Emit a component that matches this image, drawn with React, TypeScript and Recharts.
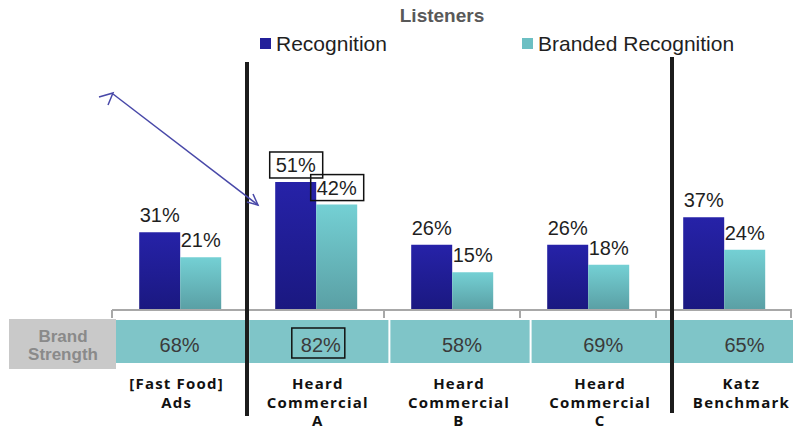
import React from "react";
import { BarChart, Bar, XAxis, YAxis, LabelList } from "recharts";

// categories along the x axis, one entry per line of the label
const categories = ["Fast Food Ads", "Heard Commercial A", "Heard Commercial B", "Heard Commercial C", "Katz Benchmark"];
const categoryLines = [
  ["[Fast Food]", "Ads"],
  ["Heard", "Commercial", "A"],
  ["Heard", "Commercial", "B"],
  ["Heard", "Commercial", "C"],
  ["Katz", "Benchmark"],
];
const seriesNames = ["Recognition", "Branded Recognition"];
const recognition = [31, 51, 26, 26, 37];
const brandedRecognition = [21, 42, 15, 18, 24];
const brandStrength = [68, 82, 58, 69, 65];
// which values get a box drawn round them
const boxedRecognition = [false, true, false, false, false];
const boxedBranded = [false, true, false, false, false];
const boxedStrength = [false, true, false, false, false];

const data = categories.map((name, i) => ({
  name,
  rec: recognition[i],
  branded: brandedRecognition[i],
}));

const FONT = "'Liberation Sans', Arial, sans-serif";

const makeValueLabel = (boxed: boolean[]) => (props: any) => {
  const { x, y, width, value, index } = props;
  const cx = Number(x) + Number(width) / 2;
  const ty = Number(y) - 10;
  return (
    <g>
      {boxed[index] && (
        <rect x={cx - 26} y={ty - 20} width={53} height={26} fill="none" stroke="#111" strokeWidth={1.5} />
      )}
      <text x={cx} y={ty} textAnchor="middle" fontSize={20} fill="#1f1f1f" fontFamily={FONT}>
        {value}%
      </text>
    </g>
  );
};

// tick marks at the category boundaries of the bar axis
const BoundaryTick = (props: any) => {
  const { x, y, payload, index } = props;
  const half = payload && payload.offset ? payload.offset : 68;
  const last = index === categories.length - 1;
  return (
    <g>
      <line x1={x - half} x2={x - half} y1={y} y2={y + 8} stroke="#a8a8a8" strokeWidth={2} />
      {last && <line x1={x + half - 1} x2={x + half - 1} y1={y} y2={y + 8} stroke="#a8a8a8" strokeWidth={2} />}
    </g>
  );
};

// brand strength cell plus the category name under it
const TableTick = (props: any) => {
  const { x, y, payload, index } = props;
  const half = payload && payload.offset ? payload.offset : 70;
  const lines = categoryLines[index] || [];
  const cellTop = y + 9;
  const left = Math.max(x - half + 2, 116);
  return (
    <g>
      <rect x={left} y={cellTop} width={x + half - left} height={43} fill="#7fc5c8" />
      <text x={x + 3} y={cellTop + 32} textAnchor="middle" fontSize={20} fill="#3a3a3a" fontFamily={FONT}>
        {brandStrength[index]}%
      </text>
      {boxedStrength[index] && (
        <rect x={x - 26} y={cellTop + 8} width={53} height={30} fill="none" stroke="#111" strokeWidth={1.5} />
      )}
      <text
        textAnchor="middle"
        fontSize={15}
        fontWeight="bold"
        fill="#111"
        fontFamily="'Open Sans', sans-serif"
        letterSpacing={1.2}
      >
        {lines.map((l, i) => (
          <tspan key={i} x={x} y={y + 78 + i * 18.5}>
            {l}
          </tspan>
        ))}
      </text>
    </g>
  );
};

const App = () => {
  return (
    <div style={{ position: "absolute", left: 0, top: 0, width: 793, height: 431, background: "#fff" }}>
      <BarChart
        width={793}
        height={431}
        data={data}
        margin={{ top: 59, right: 1, left: 112, bottom: 0 }}
        barCategoryGap="20%"
        barGap={0}
      >
        <defs>
          <linearGradient id="darkGrad" x1="0" y1="0" x2="0" y2="1">
            <stop offset="0%" stopColor="#2622a8" />
            <stop offset="100%" stopColor="#1a1880" />
          </linearGradient>
          <linearGradient id="lightGrad" x1="0" y1="0" x2="0" y2="1">
            <stop offset="0%" stopColor="#74d0d4" />
            <stop offset="100%" stopColor="#5a9fa4" />
          </linearGradient>
        </defs>
        <XAxis
          xAxisId="bars"
          dataKey="name"
          height={1}
          interval={0}
          tickSize={0}
          tickMargin={0}
          tickLine={false}
          axisLine={{ stroke: "#a8a8a8", strokeWidth: 2 }}
          tick={<BoundaryTick />}
        />
        <XAxis
          xAxisId="table"
          dataKey="name"
          height={120}
          interval={0}
          tickSize={0}
          tickMargin={0}
          tickLine={false}
          axisLine={false}
          padding={{ left: -6, right: -20 }}
          tick={<TableTick />}
        />
        <YAxis hide domain={[0, 100]} />
        <Bar xAxisId="bars" dataKey="rec" name={seriesNames[0]} fill="url(#darkGrad)" isAnimationActive={false}>
          <LabelList dataKey="rec" content={makeValueLabel(boxedRecognition)} />
        </Bar>
        <Bar xAxisId="bars" dataKey="branded" name={seriesNames[1]} fill="url(#lightGrad)" isAnimationActive={false}>
          <LabelList dataKey="branded" content={makeValueLabel(boxedBranded)} />
        </Bar>
      </BarChart>

      {/* title, legend, row header and the hand-drawn annotations */}
      <svg
        width={793}
        height={431}
        style={{ position: "absolute", left: 0, top: 0, pointerEvents: "none" }}
      >
        <text x={442} y={22} textAnchor="middle" fontSize={19} fontWeight="bold" fill="#595959" fontFamily={FONT}>
          Listeners
        </text>
        <rect x={260} y={38} width={11} height={11} fill="#23209a" />
        <text x={276} y={51} fontSize={21} fill="#1f1f1f" fontFamily={FONT}>
          {seriesNames[0]}
        </text>
        <rect x={522} y={38} width={11} height={11} fill="#6cbfc3" />
        <text x={538} y={51} fontSize={21} fill="#1f1f1f" fontFamily={FONT}>
          {seriesNames[1]}
        </text>

        <rect x={9} y={319} width={107} height={50} fill="#c9c9c9" />
        <text x={63} y={342} textAnchor="middle" fontSize={17} fontWeight="bold" fill="#8a8a8a" fontFamily={FONT}>
          Brand
        </text>
        <text x={63} y={360} textAnchor="middle" fontSize={17} fontWeight="bold" fill="#8a8a8a" fontFamily={FONT}>
          Strength
        </text>

        <line x1={247} x2={247} y1={62} y2={416} stroke="#1c1c1c" strokeWidth={4} />
        <line x1={672} x2={672} y1={57} y2={413} stroke="#1c1c1c" strokeWidth={4} />

        <g stroke="#4848a8" strokeWidth={1.5} fill="none">
          <line x1={113} y1={94} x2={258} y2={205} />
          <polyline points="99,97 113,93 108,105" />
          <polyline points="253,194 258,205 247,202" />
        </g>
      </svg>
    </div>
  );
};

export default App;
